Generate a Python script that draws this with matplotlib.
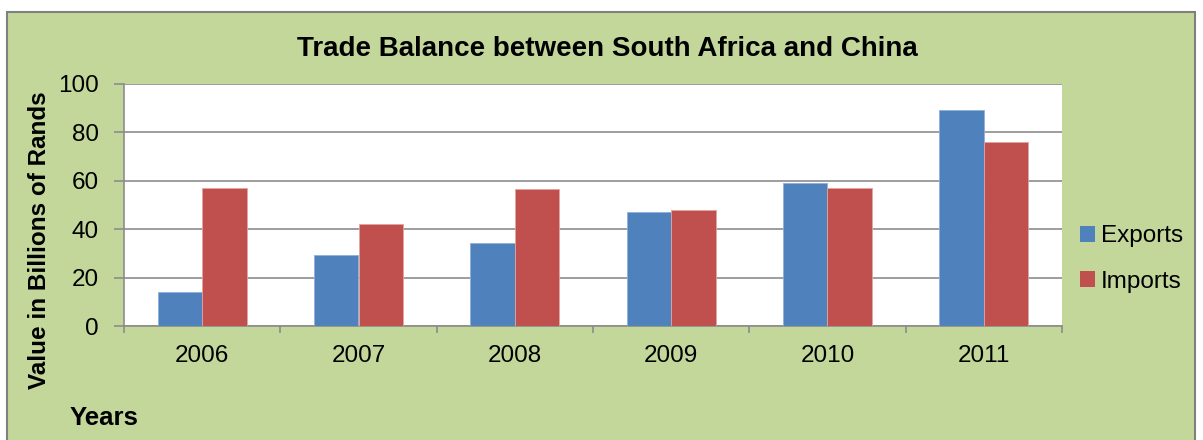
import matplotlib
matplotlib.use("Agg")
import matplotlib.pyplot as plt
import numpy as np
from matplotlib.patches import Rectangle, Patch

years = ["2006", "2007", "2008", "2009", "2010", "2011"]
exports = [14.0, 29.3, 34.2, 47.2, 59.0, 89.4]
imports = [56.9, 42.0, 56.5, 47.9, 56.9, 76.0]
series_names = ["Exports", "Imports"]

plt.rcParams['font.family'] = ['Liberation Sans', 'DejaVu Sans']

green = "#C4D79B"
blue = "#4F81BD"
red = "#C0504D"
grid_gray = "#8C8C8C"

fig = plt.figure(figsize=(12.03, 4.40), dpi=100)
fig.patch.set_facecolor("white")

# chart frame behind everything
frame = Rectangle((7 / 1203, -0.05), (1195 - 7) / 1203, 1.05 - 12 / 440,
                  transform=fig.transFigure, facecolor=green,
                  edgecolor="#7F7F7F", linewidth=1.5, zorder=-5)
fig.patches.append(frame)

ax = fig.add_axes([124 / 1203, 1 - 326 / 440, (1062 - 124) / 1203, (326 - 84) / 440])
ax.set_zorder(1)
ax.set_facecolor("white")

x = np.arange(len(years))
w = 1 / 3.5
ax.bar(x - w / 2, exports, width=w, color=blue, edgecolor="#8EB0DA", linewidth=0.6, zorder=3)
ax.bar(x + w / 2, imports, width=w, color=red, edgecolor="#E3A3A1", linewidth=0.6, zorder=3)

ax.set_xlim(-0.5, len(years) - 0.5)
ax.set_ylim(0, 100)
ax.set_yticks(np.arange(0, 101, 20))
ax.yaxis.grid(True, color=grid_gray, linewidth=1.2, zorder=1)
ax.set_axisbelow(True)

ax.set_xticks(x)
ax.set_xticklabels(years, fontsize=17.5)
ax.set_xticks(np.arange(-0.5, len(years)), minor=True)
ax.tick_params(axis="x", which="major", length=0, pad=14)
ax.tick_params(axis="x", which="minor", length=5, color=grid_gray, width=1.2)
ax.tick_params(axis="y", length=7, color=grid_gray, width=1.2, labelsize=17.5, pad=11)

for side in ["top", "right"]:
    ax.spines[side].set_visible(False)
for side in ["left", "bottom"]:
    ax.spines[side].set_color(grid_gray)
    ax.spines[side].set_linewidth(1.2)

fig.text(607 / 1203, 1 - 49 / 440, "Trade Balance between South Africa and China",
         ha="center", va="center", fontsize=20, fontweight="bold")
fig.text(40 / 1203, 1 - 240 / 440, "Value in Billions of Rands", rotation=90,
         ha="center", va="center", fontsize=17.5, fontweight="bold")
fig.text(70 / 1203, 1 - 418 / 440, "Years", ha="left", va="center",
         fontsize=18.5, fontweight="bold")

handles = [Patch(facecolor=blue, edgecolor="none"), Patch(facecolor=red, edgecolor="none")]
fig.legend(handles, series_names, loc="center left",
           bbox_to_anchor=(1070 / 1203, 1 - 259 / 440), frameon=False,
           fontsize=17.5, handlelength=0.62, handleheight=0.62,
           handletextpad=0.25, labelspacing=0.95, borderaxespad=0)

fig.savefig("out.png", dpi=100, facecolor=fig.get_facecolor())
